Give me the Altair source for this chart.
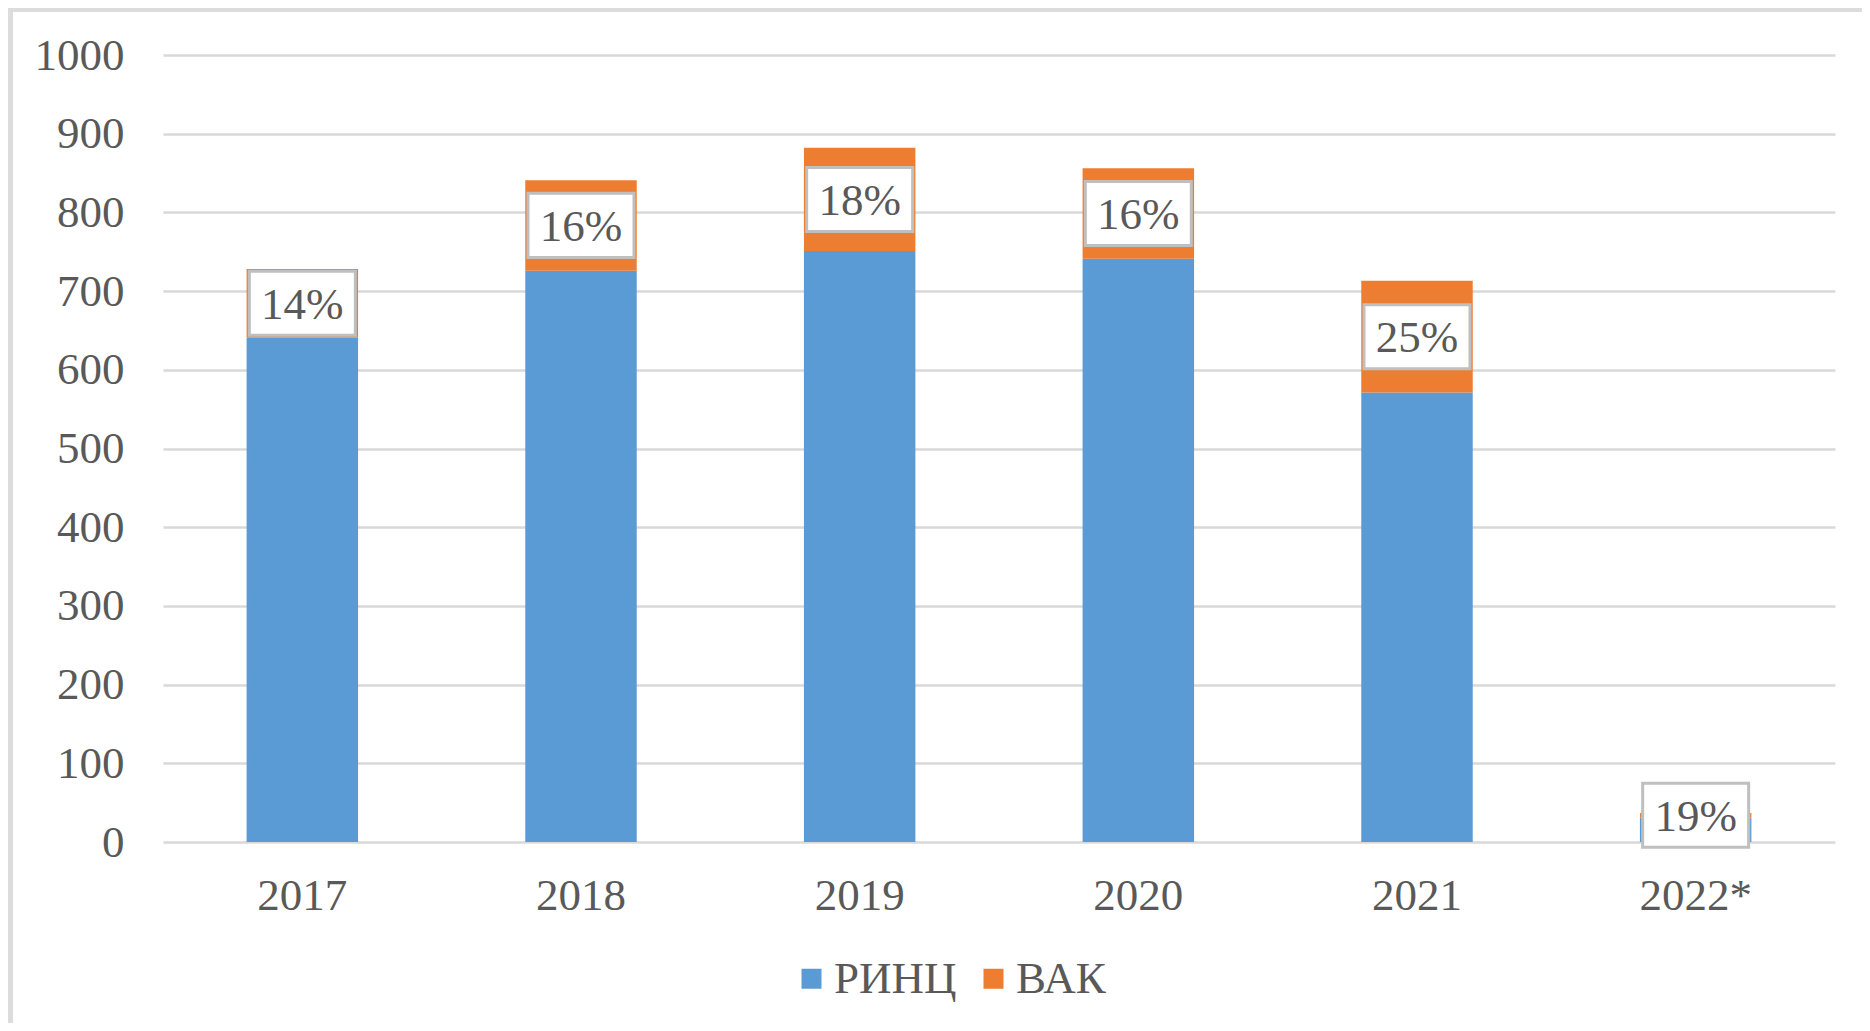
import altair as alt
import pandas as pd

years = ["2017", "2018", "2019", "2020", "2021", "2022*"]
rinc = [641, 726, 751, 741, 571, 31]
vak = [87, 115, 131, 115, 142, 6]
pct_labels = ["14%", "16%", "18%", "16%", "25%", "19%"]
series = ["РИНЦ", "ВАК"]
colors = ["#5b9bd5", "#ed7d31"]

rows = []
for y, r, v in zip(years, rinc, vak):
    rows.append({"year": y, "series": "РИНЦ", "value": r, "ord": 0})
    rows.append({"year": y, "series": "ВАК", "value": v, "ord": 1})
bars_df = pd.DataFrame(rows)

lab_df = pd.DataFrame({"year": years, "rinc": rinc, "vak": vak, "label": pct_labels})

FONT = "Liberation Serif"
TXT = "#595959"
W, H = 1672, 787
PL, PT, PR, PB = 155, 47, 27, 181

x_enc = alt.X("year:N", sort=years,
              scale=alt.Scale(paddingInner=0.6, paddingOuter=0.3),
              axis=alt.Axis(title=None, labelAngle=0, domain=False, ticks=False, grid=False,
                            labelFont=FONT, labelFontSize=45, labelColor=TXT,
                            labelBaseline="alphabetic", labelPadding=67))

bars = alt.Chart(bars_df).mark_bar().encode(
    x=x_enc,
    y=alt.Y("value:Q", stack="zero",
            scale=alt.Scale(domain=[0, 1000], nice=False),
            axis=alt.Axis(title=None, values=list(range(0, 1001, 100)), format="d",
                          domain=False, ticks=False, labelFont=FONT, labelFontSize=45,
                          labelColor=TXT, labelPadding=39, gridColor="#d9d9d9",
                          gridWidth=2.5)),
    color=alt.Color("series:N", scale=alt.Scale(domain=series, range=colors),
                    legend=alt.Legend(title=None, orient="none", direction="horizontal",
                                      legendX=626, legendY=901, symbolType="square",
                                      symbolSize=400, symbolStrokeWidth=0,
                                      labelFont=FONT, labelFontSize=45, labelColor=TXT,
                                      labelOffset=0, columnPadding=14, padding=0)),
    order=alt.Order("ord:Q"),
)

box_path = "M-1,-0.604L1,-0.604L1,0.604L-1,0.604Z"
boxes = alt.Chart(lab_df).transform_calculate(
    mid="datum.rinc + datum.vak / 2"
).mark_point(shape=box_path, size=106 * 106, filled=True, fill="white",
             stroke="#bfbfbf", strokeWidth=3, opacity=1).encode(
    x=alt.X("year:N", sort=years),
    y=alt.Y("mid:Q"),
)

texts = alt.Chart(lab_df).transform_calculate(
    mid="datum.rinc + datum.vak / 2"
).mark_text(font=FONT, fontSize=45, color=TXT, baseline="alphabetic", dy=15.5).encode(
    x=alt.X("year:N", sort=years),
    y=alt.Y("mid:Q"),
    text="label:N",
)

frame_df = pd.DataFrame({"k": [0]})
top_line = alt.Chart(frame_df).mark_rule(color="#dcdcdc", strokeWidth=4).encode(
    x=alt.value(-PL), x2=alt.value(W + PR), y=alt.value(2 - PT)
)
left_line = alt.Chart(frame_df).mark_rule(color="#dcdcdc", strokeWidth=5).encode(
    x=alt.value(2.5 - PL), y=alt.value(-PT), y2=alt.value(H + PB)
)

chart = alt.layer(bars, boxes, texts, top_line, left_line).properties(
    width=W, height=H,
    background="white",
    autosize=alt.AutoSizeParams(type="none"),
    padding={"left": PL, "top": PT, "right": PR, "bottom": PB},
).configure_view(stroke=None)

chart.save("out.html", embed_options={"renderer": "svg", "actions": False})
